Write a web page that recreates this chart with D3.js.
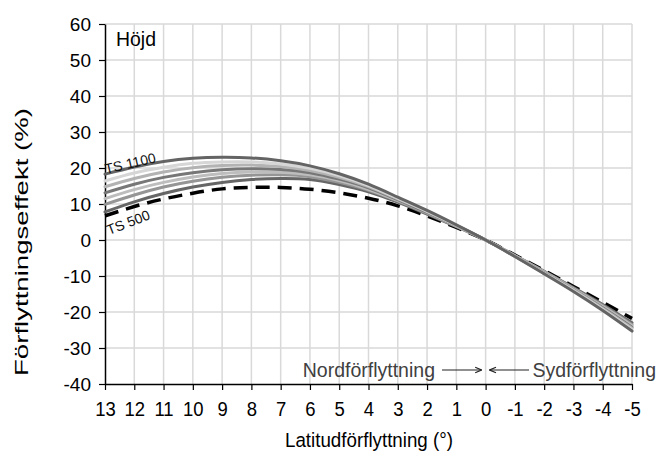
<!DOCTYPE html>
<html>
<head>
<meta charset="utf-8">
<script src="https://cdn.jsdelivr.net/npm/d3@7"></script>
<style>
  html, body { margin: 0; padding: 0; background: #fff; }
  svg { display: block; font-family: "Liberation Sans", Arial, sans-serif; }
</style>
</head>
<body>
<svg id="chart" width="661" height="464"></svg>
<script>
// Latitude shift (degrees), north positive
const latShift = [13, 12, 11, 10, 9, 8, 7, 6, 5, 4, 3, 2, 1, 0, -1, -2, -3, -4, -5];

// Relocation effect (%) on height per temperature sum
const ts1100 = [18.3, 20.3, 21.8, 22.7, 23.0, 22.8, 22.0, 20.6, 18.4, 15.5, 11.9, 8.2, 4.2, 0, -4.6, -9.4, -14.3, -19.6, -25.3];
const ts1000 = [16.4, 18.6, 20.2, 21.3, 21.7, 21.7, 21.1, 19.9, 17.9, 15.1, 11.6, 8.0, 4.1, 0, -4.5, -9.3, -14.1, -19.3, -24.9];
const ts900  = [14.8, 17.1, 18.9, 20.1, 20.7, 20.8, 20.4, 19.3, 17.4, 14.8, 11.4, 7.9, 4.0, 0, -4.5, -9.2, -13.9, -19.0, -24.5];
const ts800  = [13.1, 15.5, 17.4, 18.7, 19.5, 19.8, 19.6, 18.7, 16.9, 14.5, 11.2, 7.7, 4.0, 0, -4.5, -9.1, -13.8, -18.8, -24.2];
const ts700  = [11.5, 14.0, 16.0, 17.5, 18.5, 18.9, 18.8, 18.1, 16.5, 14.1, 11.0, 7.6, 3.9, 0, -4.4, -8.9, -13.6, -18.5, -23.8];
const ts600  = [9.9, 12.5, 14.7, 16.3, 17.4, 18.0, 18.1, 17.6, 16.0, 13.8, 10.8, 7.4, 3.8, 0, -4.4, -8.8, -13.4, -18.2, -23.5];
const ts500  = [7.8, 10.6, 12.9, 14.7, 16.0, 16.8, 17.1, 16.8, 15.4, 13.4, 10.5, 7.2, 3.7, 0, -4.3, -8.7, -13.2, -17.9, -23.0];
const baseline = [6.7, 9.3, 11.4, 13.0, 14.2, 14.6, 14.6, 14.1, 13.1, 11.6, 9.5, 6.7, 3.5, 0, -4.2, -8.5, -12.9, -17.3, -21.8];

const yTicks = [60, 50, 40, 30, 20, 10, 0, -10, -20, -30, -40];

const solidSeries = [
  { values: ts500,  color: "#666666" },
  { values: ts600,  color: "#959595" },
  { values: ts700,  color: "#bdbdbd" },
  { values: ts800,  color: "#777777" },
  { values: ts900,  color: "#b3b3b3" },
  { values: ts1000, color: "#d6d6d6" },
  { values: ts1100, color: "#646464" }
];

const svg = d3.select("#chart");
const m = { left: 105, right: 632, top: 24, bottom: 384 };

const x = d3.scaleLinear().domain([13, -5]).range([m.left, m.right]);
const y = d3.scaleLinear().domain([-40, 60]).range([m.bottom, m.top]);
const fmt = d => String(d);

// grid
const grid = svg.append("g");
grid.selectAll("line.v").data(latShift.filter(d => d !== 13)).join("line")
  .attr("x1", d => x(d)).attr("x2", d => x(d))
  .attr("y1", m.top).attr("y2", m.bottom)
  .attr("stroke", "#d9d9d9").attr("stroke-width", 1.5);
grid.selectAll("line.h").data(yTicks.filter(d => d !== -40)).join("line")
  .attr("x1", m.left).attr("x2", m.right)
  .attr("y1", d => y(d)).attr("y2", d => y(d))
  .attr("stroke", "#d9d9d9").attr("stroke-width", 1.5);

// axes
const xAxis = d3.axisBottom(x).tickValues(latShift).tickSize(6).tickSizeOuter(0).tickFormat(fmt);
const gx = svg.append("g").attr("transform", `translate(0,${m.bottom})`).call(xAxis);
gx.select(".domain").attr("stroke", "#000").attr("stroke-width", 1.5);
gx.selectAll(".tick line").attr("stroke", "#000").attr("stroke-width", 1.2);
gx.selectAll(".tick text").attr("font-size", 21).attr("fill", "#000")
  .attr("y", 17).attr("dy", "0.71em").attr("transform", "scale(0.88,1)")
  .attr("font-family", "'Liberation Sans', Arial, sans-serif");

const yAxis = d3.axisLeft(y).tickValues(yTicks).tickSize(6).tickSizeOuter(0).tickFormat(fmt);
const gy = svg.append("g").attr("transform", `translate(${m.left},0)`).call(yAxis);
gy.select(".domain").attr("stroke", "#000").attr("stroke-width", 1.5);
gy.selectAll(".tick line").attr("stroke", "#000").attr("stroke-width", 1.2);
gy.selectAll(".tick text").attr("font-size", 19).attr("fill", "#000").attr("x", -14)
  .attr("font-family", "'Liberation Sans', Arial, sans-serif");

// curves
const line = d3.line()
  .x((d, i) => x(latShift[i]))
  .y(d => y(d))
  .curve(d3.curveNatural);

svg.append("path").datum(baseline)
  .attr("d", line).attr("fill", "none")
  .attr("stroke", "#000").attr("stroke-width", 3.5)
  .attr("stroke-dasharray", "14 8");

svg.append("g").selectAll("path").data(solidSeries).join("path")
  .attr("d", d => line(d.values)).attr("fill", "none")
  .attr("stroke", d => d.color).attr("stroke-width", 3)
  .attr("stroke-linecap", "round");

// series labels
svg.append("text").attr("transform", `translate(106,174) rotate(-13)`)
  .attr("font-size", 14).attr("fill", "#111").text("TS 1100");
svg.append("text").attr("transform", `translate(109,235) rotate(-21)`)
  .attr("font-size", 14).attr("fill", "#111").text("TS 500");

// panel title
svg.append("text").attr("x", 116).attr("y", 46).attr("font-size", 21)
  .attr("textLength", 40).attr("lengthAdjust", "spacingAndGlyphs")
  .attr("fill", "#000").text("Höjd");

// direction annotation
const note = svg.append("g").attr("fill", "#404040").attr("font-size", 19.5);
note.append("text").attr("x", 435).attr("y", 377).attr("text-anchor", "end").text("Nordförflyttning");
note.append("text").attr("x", 656).attr("y", 377).attr("text-anchor", "end").text("Sydförflyttning");

const defs = svg.append("defs");
defs.append("marker").attr("id", "ah").attr("viewBox", "0 0 10 10")
  .attr("refX", 9).attr("refY", 5).attr("markerWidth", 8).attr("markerHeight", 8)
  .attr("markerUnits", "userSpaceOnUse").attr("orient", "auto")
  .append("path").attr("d", "M1,1.5 L9,5 L1,8.5").attr("fill", "none").attr("stroke", "#222").attr("stroke-width", 1.5);
svg.append("line").attr("x1", 442).attr("x2", x(0) - 4).attr("y1", 370).attr("y2", 370)
  .attr("stroke", "#222").attr("stroke-width", 1.2).attr("marker-end", "url(#ah)");
svg.append("line").attr("x1", 529).attr("x2", x(0) + 4).attr("y1", 370).attr("y2", 370)
  .attr("stroke", "#222").attr("stroke-width", 1.2).attr("marker-end", "url(#ah)");

// axis titles
svg.append("text").attr("x", 285).attr("y", 447)
  .attr("font-size", 20.5).attr("textLength", 168).attr("lengthAdjust", "spacingAndGlyphs")
  .attr("fill", "#000").text("Latitudförflyttning (°)");
svg.append("text").attr("transform", `translate(28,376) rotate(-90)`)
  .attr("font-size", 19).attr("textLength", 268).attr("lengthAdjust", "spacingAndGlyphs")
  .attr("fill", "#000").text("Förflyttningseffekt (%)");
</script>
</body>
</html>
